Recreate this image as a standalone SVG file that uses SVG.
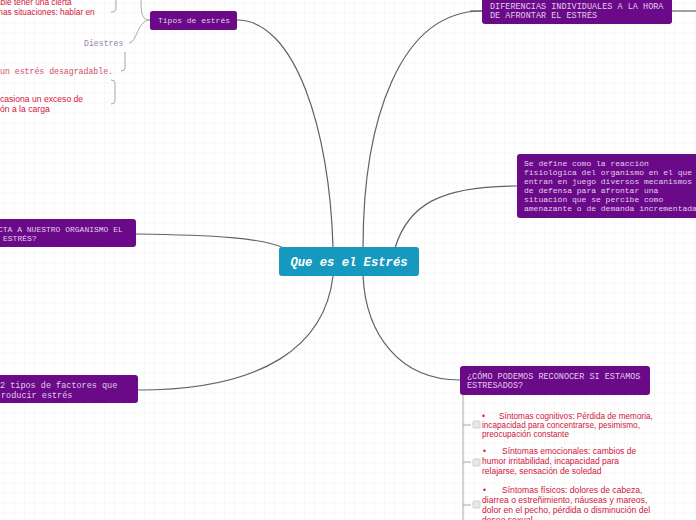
<svg xmlns="http://www.w3.org/2000/svg" width="696" height="520" viewBox="0 0 696 520">
<defs>
<pattern id="grid" x="4" y="2.5" width="10" height="10" patternUnits="userSpaceOnUse">
<path d="M0,0 H10 M0,0 V10" fill="none" stroke="#efefef" stroke-width="1"/>
</pattern>
<style>
.node{fill:#6b0a88;}
.nt{font-family:"Liberation Mono","Courier New",monospace;font-size:8.5px;fill:#e0cdea;}
.nt8{font-size:8px;}
.conn{fill:none;stroke:#5f6368;stroke-width:1.2;}
.sub{fill:none;stroke:#a8a8a8;stroke-width:1;}
.red{font-family:"Liberation Sans",Arial,sans-serif;fill:#d0163c;}
.cb{fill:#e8e8e8;stroke:#c8c8c8;stroke-width:0.8;}
</style>
</defs>
<rect width="696" height="520" fill="#ffffff"/>
<rect width="696" height="520" fill="url(#grid)"/>

<g id="connectors">
<path class="conn" d="M237,20 C295,20 330,130 333,248"/>
<path class="conn" d="M363,248 C363,120 400,11 482,11"/>
<path class="conn" d="M470,11 L482,11"/>
<path class="conn" d="M672,11 L696,11"/>
<path class="conn" d="M395,248 C408,205 440,186 517,186"/>
<path class="conn" d="M136,234 C215,235 262,238 284,248"/>
<path class="conn" d="M138,390 C265,390 325,345 333,276"/>
<path class="conn" d="M363,276 C366,335 400,380 460,380"/>
<path class="sub" d="M150,20 C142,20 141,14 141,0"/>
<path class="sub" d="M150,20 C137,20 137,43 129,43"/>
<path class="sub" d="M116,0 V9 Q116,12 111,12"/>
<path class="sub" d="M125,52 V68 Q125,71 121,71"/>
<path class="sub" d="M111,80 Q115,80 115,83 V101 Q115,104 111,104"/>
<path class="sub" d="M463,395 V520"/>
<path class="sub" d="M463,425 H471"/>
<path class="sub" d="M463,462 H471"/>
<path class="sub" d="M463,505 H471"/>
</g>

<g id="central">
<rect x="279" y="247" width="140" height="29" rx="3" fill="#1699be"/>
<text x="349" y="265.5" text-anchor="middle" font-family="'Liberation Mono','Courier New',monospace" font-size="12.2" font-weight="bold" font-style="italic" fill="#ffffff">Que es el Estrés</text>
</g>

<g id="tipos">
<rect class="node" x="150" y="11" width="87" height="19" rx="2.5"/>
<text class="nt nt8" x="158" y="23">Tipos de estrés</text>
</g>

<g id="tipos-children">
<text class="red" font-size="8.3" x="-4" y="5">able tener una cierta</text>
<text class="red" font-size="8.3" x="-4" y="15">mas situaciones: hablar en</text>
<text x="84" y="46" font-family="'Liberation Mono','Courier New',monospace" font-size="8.2" fill="#9a80b8">Diestres</text>
<text x="0" y="74" font-family="'Liberation Mono','Courier New',monospace" font-size="8.2" fill="#d0506a">un estrés desagradable.</text>
<text class="red" font-size="8.6" x="0" y="102">casiona un exceso de</text>
<text class="red" font-size="8.6" x="0" y="112">ón a la carga</text>
</g>

<g id="diferencias">
<rect class="node" x="482" y="-6" width="190" height="30" rx="3"/>
<text class="nt" x="490" y="9">DIFERENCIAS INDIVIDUALES A LA HORA</text>
<text class="nt" x="490" y="18">DE AFRONTAR EL ESTRÉS</text>
</g>

<g id="definicion">
<rect class="node" x="517" y="154" width="190" height="64" rx="3"/>
<text class="nt nt8" x="524" y="166">Se define como la reacción</text>
<text class="nt nt8" x="524" y="175">fisiológica del organismo en el que</text>
<text class="nt nt8" x="524" y="184">entran en juego diversos mecanismos</text>
<text class="nt nt8" x="524" y="193">de defensa para afrontar una</text>
<text class="nt nt8" x="524" y="202">situación que se percibe como</text>
<text class="nt nt8" x="524" y="211">amenazante o de demanda incrementada</text>
</g>

<g id="afecta">
<rect class="node" x="-10" y="219" width="146" height="28" rx="3"/>
<text class="nt nt8" x="-2" y="232">CTA A NUESTRO ORGANISMO EL</text>
<text class="nt nt8" x="3" y="241">ESTRÉS?</text>
</g>

<g id="factores">
<rect class="node" x="-10" y="375" width="148" height="28" rx="3"/>
<text class="nt" x="0" y="388">2 tipos de factores que</text>
<text class="nt" x="1" y="398">roducir estrés</text>
</g>

<g id="reconocer">
<rect class="node" x="460" y="366" width="190" height="29" rx="3"/>
<text class="nt" x="467" y="379">¿CÓMO PODEMOS RECONOCER SI ESTAMOS</text>
<text class="nt" x="467" y="388">ESTRESADOS?</text>
</g>

<g id="sintomas-cognitivos">
<rect class="cb" x="473" y="421" width="7" height="7" rx="1"/>
<text class="red" font-size="8.2" x="482" y="419">•<tspan x="499">Síntomas cognitivos: Pérdida de memoria,</tspan></text>
<text class="red" font-size="8.2" x="482" y="428">incapacidad para concentrarse, pesimismo,</text>
<text class="red" font-size="8.2" x="482" y="437">preocupación constante</text>
</g>

<g id="sintomas-emocionales">
<rect class="cb" x="473" y="459" width="7" height="7" rx="1"/>
<text class="red" font-size="8.5" x="483" y="454">•<tspan x="502">Síntomas emocionales: cambios de</tspan></text>
<text class="red" font-size="8.5" x="482" y="464">humor  irritabilidad, incapacidad para</text>
<text class="red" font-size="8.5" x="482" y="474">relajarse, sensación de soledad</text>
</g>

<g id="sintomas-fisicos">
<rect class="cb" x="473" y="501" width="7" height="7" rx="1"/>
<text class="red" font-size="8.6" x="483" y="493">•<tspan x="502">Síntomas físicos: dolores de cabeza,</tspan></text>
<text class="red" font-size="8.6" x="482" y="503">diarrea o estreñimiento, náuseas y mareos,</text>
<text class="red" font-size="8.6" x="482" y="513">dolor en el pecho, pérdida o disminución del</text>
<text class="red" font-size="8.6" x="482" y="523">deseo sexual</text>
</g>
</svg>
